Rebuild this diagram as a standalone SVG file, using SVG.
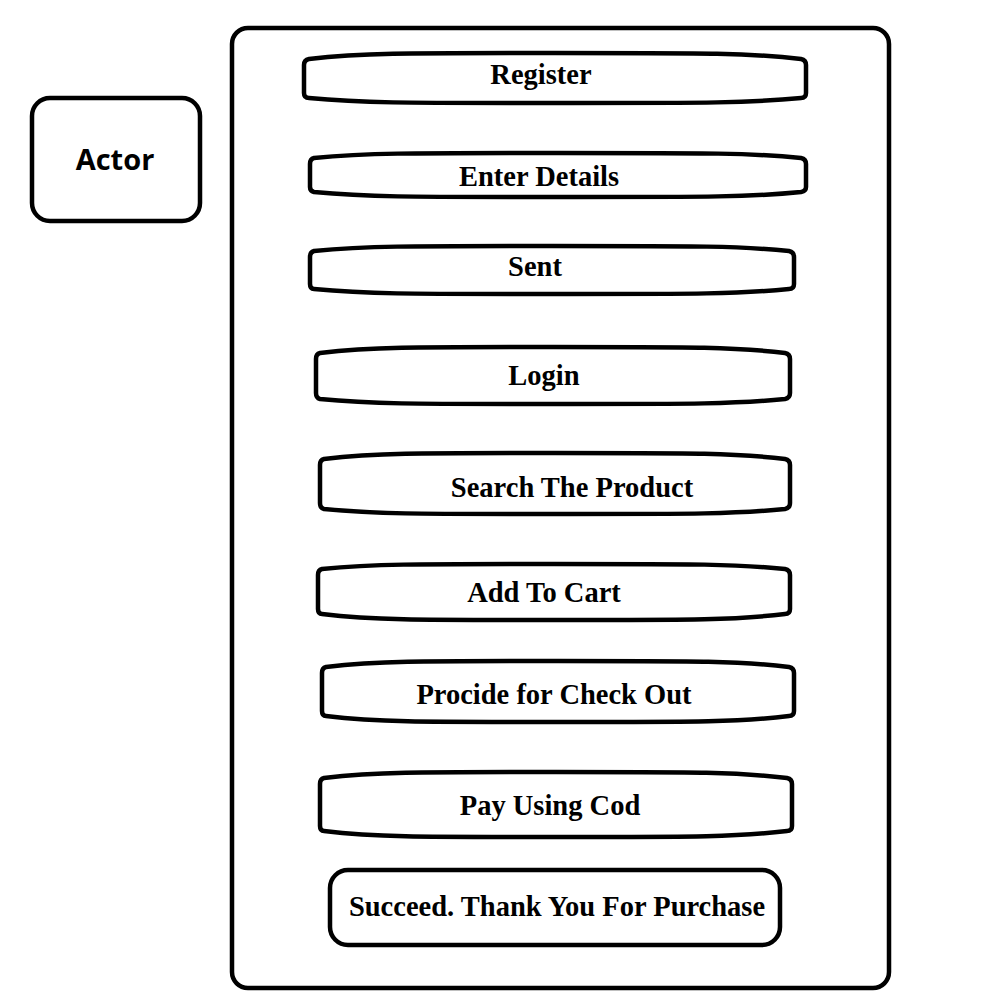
<svg xmlns="http://www.w3.org/2000/svg" width="1000" height="1000" viewBox="0 0 1000 1000">
<style>
.b{fill:#fff;stroke:#000;stroke-width:4.5;stroke-linejoin:round}
.t{font-family:"Liberation Serif","Times New Roman",serif;font-weight:bold;font-size:28.5px;fill:#000;text-anchor:middle;dominant-baseline:central}
.a{font-family:"Open Sans","Noto Sans",sans-serif;font-weight:bold;font-size:29px;fill:#000;text-anchor:middle;dominant-baseline:central}
</style>
<rect width="1000" height="1000" fill="#fff"/>
<g id="system"><rect class="b" x="232" y="28" width="657" height="960" rx="16"/></g>
<g id="actor"><rect class="b" x="32" y="98" width="168" height="123" rx="18"/><text class="a" x="115" y="158">Actor</text></g>
<g id="connectors"></g>
<g id="register"><path class="b" d="M309,59 C360,53 400,53 555,53 C710,53 750,53 801,59 Q806,60 806,65 L806,93 Q806,98 801,98 C750,103 710,103 555,103 C400,103 360,103 309,98 Q304,98 304,93 L304,65 Q304,60 309,59 Z"/><text class="t" x="541" y="74">Register</text></g>
<g id="enter-details"><path class="b" d="M314,158 C365,153 405,153 558,153 C711,153 751,153 801,158 Q806,159 806,164 L806,187 Q806,191 801,192 C751,197 711,197 558,197 C405,197 365,197 314,192 Q310,191 310,187 L310,164 Q310,159 314,158 Z"/><text class="t" x="539" y="176">Enter Details</text></g>
<g id="sent"><path class="b" d="M314,251 C365,246 405,246 552,246 C699,246 739,246 789,251 Q794,252 794,257 L794,284 Q794,289 789,289 C739,294 699,294 552,294 C405,294 365,294 314,289 Q310,289 310,284 L310,257 Q310,252 314,251 Z"/><text class="t" x="535" y="266">Sent</text></g>
<g id="login"><path class="b" d="M320,353 C370,347 410,347 553,347 C696,347 736,347 785,353 Q790,354 790,359 L790,393 Q790,398 785,399 C736,404 696,404 553,404 C410,404 370,404 320,399 Q316,398 316,393 L316,359 Q316,354 320,353 Z"/><text class="t" x="544" y="375">Login</text></g>
<g id="search"><path class="b" d="M324,459 C374,453 414,453 555,453 C696,453 736,453 785,459 Q790,460 790,465 L790,503 Q790,508 785,509 C736,514 696,514 555,514 C414,514 374,514 324,509 Q320,508 320,503 L320,465 Q320,460 324,459 Z"/><text class="t" x="572" y="487">Search The Product</text></g>
<g id="add-to-cart"><path class="b" d="M322,569 C372,564 412,564 554,564 C696,564 736,564 785,569 Q790,570 790,575 L790,609 Q790,614 785,614 C736,620 696,620 554,620 C412,620 372,620 322,614 Q318,614 318,609 L318,575 Q318,570 322,569 Z"/><text class="t" x="544" y="592">Add To Cart</text></g>
<g id="checkout"><path class="b" d="M326,667 C376,661 416,661 558,661 C700,661 740,661 789,667 Q794,668 794,673 L794,711 Q794,716 789,716 C740,722 700,722 558,722 C416,722 376,722 326,716 Q322,716 322,711 L322,673 Q322,668 326,667 Z"/><text class="t" x="554" y="694">Procide for Check Out</text></g>
<g id="pay"><path class="b" d="M324,778 C374,772 414,772 556,772 C698,772 738,772 787,778 Q792,779 792,784 L792,826 Q792,831 787,831 C738,837 698,837 556,837 C414,837 374,837 324,831 Q320,831 320,826 L320,784 Q320,779 324,778 Z"/><text class="t" x="550" y="805">Pay Using Cod</text></g>
<g id="succeed"><rect class="b" x="330" y="870" width="450" height="75" rx="18"/><text class="t" x="557" y="906">Succeed. Thank You For Purchase</text></g>
</svg>
